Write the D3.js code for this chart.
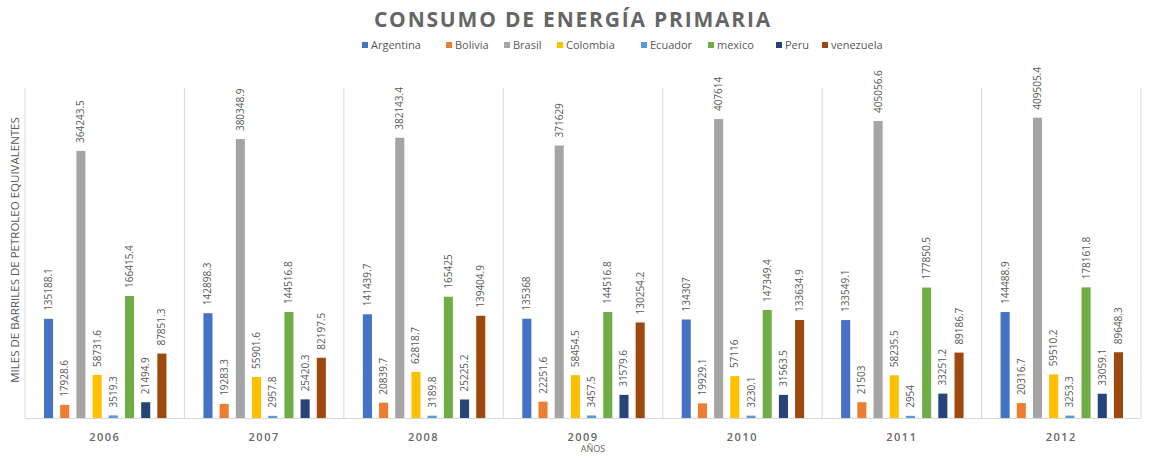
<!DOCTYPE html>
<html><head><meta charset="utf-8">
<script src="https://cdn.jsdelivr.net/npm/d3@7"></script>
<style>body{margin:0;background:#fff}svg{display:block}</style>
</head><body>
<script>
const years = ["2006","2007","2008","2009","2010","2011","2012"];
const countries = ["Argentina","Bolivia","Brasil","Colombia","Ecuador","mexico","Peru","venezuela"];
const colors = ["#4472C4","#ED7D31","#A5A5A5","#FFC000","#5B9BD5","#70AD47","#264478","#9E480E"];
const argentina = [135188.1,142898.3,141439.7,135368,134307,133549.1,144488.9];
const bolivia = [17928.6,19283.3,20839.7,22251.6,19929.1,21503,20316.7];
const brasil = [364243.5,380348.9,382143.4,371629,407614,405056.6,409505.4];
const colombia = [58731.6,55901.6,62818.7,58454.5,57116,58235.5,59510.2];
const ecuador = [3519.3,2957.8,3189.8,3457.5,3230.1,2954,3253.3];
const mexico = [166415.4,144516.8,165425,144516.8,147349.4,177850.5,178161.8];
const peru = [21494.9,25420.3,25225.2,31579.6,31563.5,33251.2,33059.1];
const venezuela = [87851.3,82197.5,139404.9,130254.2,133634.9,89186.7,89648.3];
const seriesValues = [argentina,bolivia,brasil,colombia,ecuador,mexico,peru,venezuela];
const yMax = 450000;

const W = 1151, H = 456;
const mLeft = 25, mRight = 1141, mTop = 88, mBottom = 418;
const svg = d3.select("body").append("svg").attr("width", W).attr("height", H);
const font = "'Open Sans', 'Liberation Sans', sans-serif";

const x0 = d3.scaleBand().domain(years).range([mLeft, mRight]).padding(0);
const x1 = d3.scaleBand().domain(countries).range([19, x0.bandwidth() - 18]).paddingInner(0.44).paddingOuter(0);
const y = d3.scaleLinear().domain([0, yMax]).range([mBottom, mTop]);

// vertical separators
const seps = years.map(yr => x0(yr)).concat([mRight]);
svg.append("g").selectAll("line").data(seps).join("line")
  .attr("x1", d => d).attr("x2", d => d).attr("y1", mTop).attr("y2", mBottom)
  .attr("stroke", "#d9d9d9").attr("stroke-width", 1);

// baseline
svg.append("line").attr("x1", mLeft).attr("x2", mRight).attr("y1", mBottom + 0.5).attr("y2", mBottom + 0.5)
  .attr("stroke", "#d9d9d9");

// bars
const data = [];
years.forEach((yr, i) => countries.forEach((c, j) => data.push({yr, c, j, v: seriesValues[j][i]})));
svg.append("g").selectAll("rect").data(data).join("rect")
  .attr("x", d => x0(d.yr) + x1(d.c)).attr("width", x1.bandwidth())
  .attr("y", d => y(d.v)).attr("height", d => y(0) - y(d.v))
  .attr("fill", d => colors[d.j]);

// data labels
svg.append("g").selectAll("text").data(data).join("text")
  .attr("transform", d => `translate(${x0(d.yr) + x1(d.c) + x1.bandwidth()/2 + 3.5},${y(d.v) - 8}) rotate(-90)`)
  .attr("font-family", font).attr("font-size", 10).attr("fill", "#595959")
  .text(d => d.v);

// x axis labels
svg.append("g").selectAll("text").data(years).join("text")
  .attr("x", d => x0(d) + x0.bandwidth()/2).attr("y", 441)
  .attr("text-anchor", "middle").attr("font-family", font).attr("font-size", 11)
  .attr("font-weight", 600).attr("letter-spacing", "1.5px").attr("fill", "#666666").text(d => d);

// axis titles
svg.append("text").attr("x", (mLeft + mRight)/2 + 10).attr("y", 452).attr("text-anchor", "middle")
  .attr("font-family", font).attr("font-size", 9).attr("fill", "#666666").text("AÑOS");
svg.append("text").attr("transform", "translate(19,250) rotate(-90)").attr("text-anchor", "middle")
  .attr("font-family", font).attr("font-size", 11.5).attr("fill", "#595959")
  .text("MILES DE BARRILES DE PETROLEO EQUIVALENTES");

// title
svg.append("text").attr("x", 573).attr("y", 27).attr("text-anchor", "middle")
  .attr("font-family", font).attr("font-size", 21).attr("font-weight", "bold")
  .attr("letter-spacing", "1.8px").attr("fill", "#666666").text("CONSUMO DE ENERGÍA PRIMARIA");

// legend
const legX = [362, 446, 504, 557, 641, 708, 776, 822];
const leg = svg.append("g").selectAll("g").data(countries).join("g")
  .attr("transform", (d, i) => `translate(${legX[i]},46)`);
leg.append("rect").attr("x", 0).attr("y", -4).attr("width", 6).attr("height", 6).attr("fill", (d, i) => colors[i]);
leg.append("text").attr("x", 9).attr("y", 0).attr("dominant-baseline", "middle")
  .attr("font-family", font).attr("font-size", 11).attr("fill", "#595959").text(d => d);
</script>
</body></html>
